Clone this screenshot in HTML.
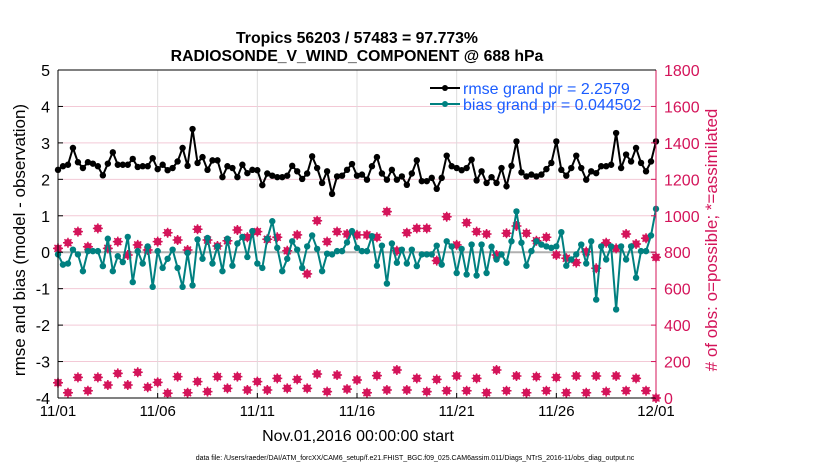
<!DOCTYPE html>
<html><head><meta charset="utf-8"><style>
body{margin:0;background:#fff;}
svg text{font-family:"Liberation Sans",sans-serif;}
</style></head><body>
<svg id="chart" width="830" height="470" viewBox="0 0 830 470" xmlns="http://www.w3.org/2000/svg">
<text x="357" y="43" text-anchor="middle" font-size="15.8" font-weight="bold">Tropics 56203 / 57483 = 97.773%</text>
<text x="357" y="61" text-anchor="middle" font-size="15.8" font-weight="bold">RADIOSONDE_V_WIND_COMPONENT @ 688 hPa</text>
<g id="grid"></g>
<g id="marks"></g>
<g id="axes"></g>
<text transform="translate(25,240) rotate(-90)" text-anchor="middle" font-size="17">rmse and bias (model - observation)</text>
<text transform="translate(717,240) rotate(-90)" text-anchor="middle" font-size="17" fill="#d4145a"># of obs: o=possible; *=assimilated</text>
<text x="358" y="441" text-anchor="middle" font-size="16">Nov.01,2016 00:00:00 start</text>
<text x="415" y="460" text-anchor="middle" font-size="7">data file: /Users/raeder/DAI/ATM_forcXX/CAM6_setup/f.e21.FHIST_BGC.f09_025.CAM6assim.011/Diags_NTrS_2016-11/obs_diag_output.nc</text>
<g>
<line x1="430" y1="88" x2="460" y2="88" stroke="#000" stroke-width="2"/><circle cx="445" cy="88" r="3" fill="#000"/>
<text x="463" y="94" font-size="16" fill="#1a5cff">rmse grand pr = 2.2579</text>
<line x1="430" y1="104" x2="460" y2="104" stroke="#008080" stroke-width="2"/><circle cx="445" cy="104" r="3" fill="#008080"/>
<text x="463" y="110" font-size="16" fill="#1a5cff">bias grand pr = 0.044502</text>
</g>
</svg>
<script>
const xTickLabels=["11/01","11/06","11/11","11/16","11/21","11/26","12/01"];
const yTicks=[-4,-3,-2,-1,0,1,2,3,4,5];
const y2Ticks=[0,200,400,600,800,1000,1200,1400,1600,1800];
const rmse=[2.26,2.36,2.40,2.86,2.47,2.31,2.47,2.43,2.36,2.11,2.43,2.74,2.40,2.40,2.40,2.56,2.34,2.36,2.36,2.58,2.28,2.40,2.25,2.31,2.49,2.86,2.37,3.38,2.45,2.61,2.26,2.52,2.52,2.06,2.36,2.31,2.06,2.40,2.17,2.26,2.25,1.84,2.16,2.10,2.06,2.06,2.10,2.37,2.22,2.01,2.16,2.63,2.31,1.90,2.22,1.60,2.08,2.10,2.26,2.42,2.10,
2.13,1.99,2.36,2.61,2.16,1.99,2.26,1.99,2.08,1.85,2.16,2.52,1.95,1.95,2.04,1.74,2.04,2.65,2.36,2.31,2.25,2.31,2.54,1.97,2.22,1.90,2.06,1.90,2.31,1.81,2.37,3.04,2.19,2.08,2.13,2.08,2.13,2.28,2.45,3.04,2.26,2.10,2.31,2.65,2.31,1.99,2.22,2.17,2.36,2.36,2.40,3.27,2.31,2.68,2.49,2.86,2.45,2.22,2.49,3.04];
const bias=[-0.06,-0.34,-0.31,0.07,-0.06,-0.52,0.03,0.03,0.03,-0.38,0.37,-0.52,-0.11,-0.27,0.42,-0.82,0.03,-0.31,0.16,-0.95,0.03,-0.43,-0.18,0.07,-0.43,-0.95,-0.02,-0.91,0.35,-0.18,0.39,-0.31,0.16,-0.52,0.37,-0.37,0.24,0.42,-0.13,0.58,-0.31,-0.43,0.37,0.85,0.12,-0.52,-0.18,0.30,0.07,-0.43,0.16,0.46,0.09,-0.52,-0.04,-0.06,0.03,0.03,0.27,0.58,0.12,
0.03,0.03,0.44,-0.37,0.18,-0.86,0.24,-0.29,0.07,-0.31,0.07,-0.38,-0.06,-0.06,-0.06,0.18,-0.34,0.30,0.16,-0.57,0.09,-0.61,0.21,-0.64,0.21,-0.57,0.15,-0.20,-0.06,-0.29,0.30,1.12,0.26,-0.37,0.03,0.30,0.21,0.16,0.12,0.16,0.55,-0.37,-0.20,-0.06,0.21,-0.31,0.30,-1.30,0.16,-0.20,0.16,-1.57,0.16,-0.20,0.16,-0.70,0.03,0.03,0.46,1.19];
const obsTop=[821,852,913,830,931,821,858,785,840,812,858,907,867,812,926,867,834,863,922,882,913,871,882,808,895,681,973,858,913,900,895,
895,882,1023,808,907,931,931,754,995,840,962,913,900,785,904,944,904,863,882,785,767,743,803,712,852,821,900,845,877,772];
const obsBottom=[84,29,113,40,113,71,135,71,141,59,86,26,117,29,90,35,117,53,117,44,90,44,108,53,102,53,132,35,126,49,99,29,123,44,154,44,108,35,102,40,121,40,108,29,154,40,121,29,117,40,113,29,121,29,121,35,121,40,108,40,0];

const NS="http://www.w3.org/2000/svg";
const L=58,R=656,T=70,B=398;
const xDay=d=>L+(R-L)*d/30;
const yL=v=>B-(v+4)*(B-T)/9;
const yR=c=>B-c*(B-T)/1800;
function mk(tag,attrs,parent){const e=document.createElementNS(NS,tag);for(const k in attrs)e.setAttribute(k,attrs[k]);parent.appendChild(e);return e;}
const grid=document.getElementById('grid'),marks=document.getElementById('marks'),axes=document.getElementById('axes');
yTicks.forEach(v=>{
  const g=mk('line',{x1:L,x2:R,y1:yL(v),y2:yL(v),stroke:v===0?'#b0b0b0':'#f3c9d6','stroke-width':v===0?2:1},grid);
  
  
  const t=mk('text',{x:L-8,y:yL(v)+6,'text-anchor':'end','font-size':16},axes);t.textContent=v;
  
  
  mk('line',{x1:L,x2:L+5,y1:yL(v),y2:yL(v),stroke:'#000'},axes);
});
xTickLabels.forEach((lab,i)=>{
  const x=xDay(i*5);
  const g=mk('line',{x1:x,x2:x,y1:T,y2:B,stroke:'#dcdcdc'},grid);
  
  
  mk('line',{x1:x,x2:x,y1:B,y2:B-5,stroke:'#000'},axes);
  const t=mk('text',{x:x,y:B+18,'text-anchor':'middle','font-size':15},axes);t.textContent=lab;
  
  
});
y2Ticks.forEach(c=>{
  mk('line',{x1:R,x2:R-5,y1:yR(c),y2:yR(c),stroke:'#d4145a'},axes);
  const t=mk('text',{x:R+8,y:yR(c)+6,'font-size':16,fill:'#d4145a'},axes);t.textContent=c;
  
  
});
mk('line',{x1:L,x2:L,y1:T,y2:B,stroke:'#000'},axes);
mk('line',{x1:L,x2:R,y1:B,y2:B,stroke:'#000'},axes);
mk('line',{x1:R,x2:R,y1:T,y2:B,stroke:'#d4145a'},axes);
mk('line',{x1:L,x2:R,y1:T,y2:T,stroke:'#000'},axes);

function obsMarker(x,y,name){
  const g=mk('g',{},marks);
  
  
  mk('circle',{cx:x,cy:y,r:3.8,fill:'#d4145a'},g);
  mk('path',{d:`M${x-5},${y}H${x+5}M${x},${y-5}V${y+5}M${x-3.5},${y-3.5}L${x+3.5},${y+3.5}M${x-3.5},${y+3.5}L${x+3.5},${y-3.5}`,stroke:'#d4145a','stroke-width':1.5},g);
}
obsTop.forEach((c,k)=>obsMarker(xDay(k*0.5),yR(c),'obs-count-upper'));
obsBottom.forEach((c,k)=>obsMarker(xDay(k*0.5),yR(c),'obs-count-lower'));

function series(vals,color,name){
  const pts=vals.map((v,i)=>[xDay(i*0.25),yL(v)]);
  const p=mk('polyline',{points:pts.map(p=>p.join(',')).join(' '),fill:'none',stroke:color,'stroke-width':2},marks);
  
  
  pts.forEach(pt=>{
    const c=mk('circle',{cx:pt[0],cy:pt[1],r:3.2,fill:color},marks);
    
    
  });
}
series(bias,'#008080','bias');
series(rmse,'#000000','rmse');
</script>
</body></html>
